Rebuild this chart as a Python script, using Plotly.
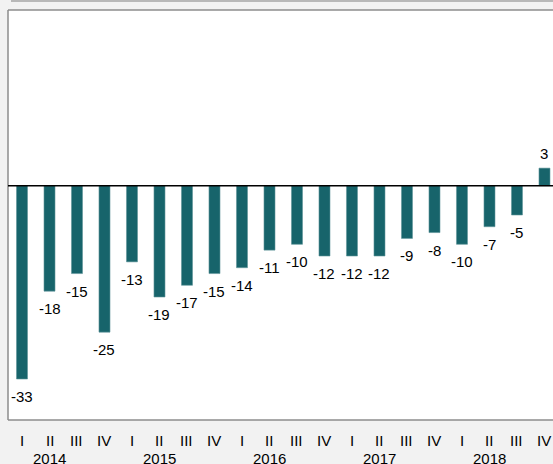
import plotly.graph_objects as go

quarters = ["I", "II", "III", "IV"] * 5
years = ["2014", "2015", "2016", "2017", "2018"]
values = [-33, -18, -15, -25, -13, -19, -17, -15, -14, -11,
          -10, -12, -12, -12, -9, -8, -10, -7, -5, 3]

FONT = "Liberation Sans Narrow, Arial Narrow, Liberation Sans, Arial, sans-serif"
x = list(range(len(values)))

fig = go.Figure()
fig.add_trace(go.Bar(
    x=x, y=values,
    width=0.4,
    marker=dict(color="#17646b", line=dict(color="#5e9499", width=0.6)),
    hoverinfo="skip",
))

annotations = []
for i, v in enumerate(values):
    if v < 0:
        annotations.append(dict(x=i, y=v, xref="x", yref="y", text=str(v),
                                showarrow=False, yanchor="top", yshift=-7,
                                font=dict(family=FONT, size=15, color="#000000")))
    else:
        annotations.append(dict(x=i, y=v, xref="x", yref="y", text=str(v),
                                showarrow=False, yanchor="bottom", yshift=4,
                                font=dict(family=FONT, size=15, color="#000000")))
for i, q in enumerate(quarters):
    annotations.append(dict(x=i, y=0, xref="x", yref="paper", text=q,
                            showarrow=False, yanchor="middle", yshift=-20,
                            font=dict(family=FONT, size=15, color="#000000")))
for k, yr in enumerate(years):
    annotations.append(dict(x=4 * k + 1, y=0, xref="x", yref="paper", text=yr,
                            showarrow=False, yanchor="middle", yshift=-38,
                            font=dict(family=FONT, size=15, color="#000000")))

H_PLOT = 410.0
W_PLOT = 545.0
shapes = [
    dict(type="rect", xref="paper", yref="paper",
         x0=(11 - 8) / W_PLOT, x1=1.02, y0=(420 - 2) / H_PLOT, y1=(420 + 1) / H_PLOT,
         fillcolor="#b8b8b8", line=dict(width=0), layer="above"),
    dict(type="line", xref="paper", yref="paper", x0=0, x1=0, y0=0, y1=1,
         line=dict(color="#8c8c8c", width=1.5)),
    dict(type="line", xref="paper", yref="paper", x0=0, x1=1, y0=1, y1=1,
         line=dict(color="#8c8c8c", width=1.5)),
    dict(type="line", xref="paper", yref="paper", x0=0, x1=1, y0=0, y1=0,
         line=dict(color="#8c8c8c", width=1.5)),
    dict(type="line", xref="paper", yref="y", x0=0, x1=1, y0=0, y1=0,
         line=dict(color="#000000", width=1.5), layer="above"),
]

fig.update_layout(
    width=553, height=464,
    margin=dict(l=8, r=0, t=10, b=44),
    paper_bgcolor="#f2f2f2",
    plot_bgcolor="#ffffff",
    showlegend=False,
    xaxis=dict(range=[-0.509, 19.31], showticklabels=False, showgrid=False,
               zeroline=False, showline=False, fixedrange=True),
    yaxis=dict(range=[-40, 30], showticklabels=False, showgrid=False,
               zeroline=False, showline=False, fixedrange=True),
    annotations=annotations,
    shapes=shapes,
)

fig.write_html("out.html", config={"displayModeBar": False},
               post_script="document.body.style.margin='0';document.body.style.overflow='hidden';")
